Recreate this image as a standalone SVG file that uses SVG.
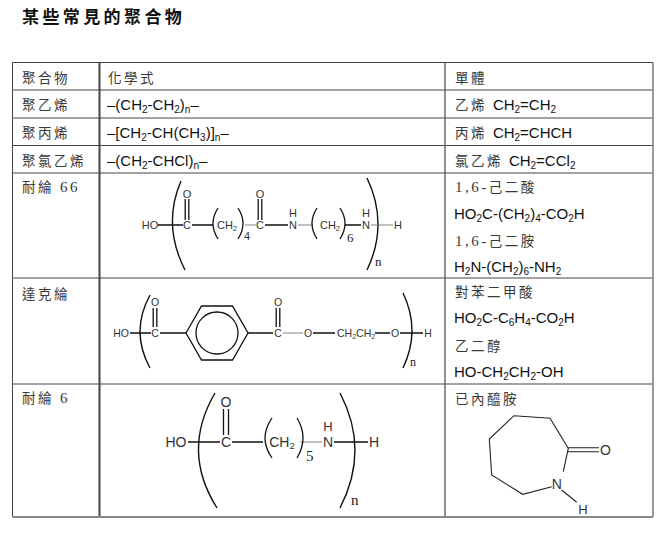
<svg xmlns="http://www.w3.org/2000/svg" width="668" height="534" viewBox="0 0 668 534">
<style>
.cj{font-family:"Liberation Serif","Noto Sans CJK TC",serif;font-size:13.5px;fill:#3a3a3a;letter-spacing:2.5px}
.f{font-family:"Liberation Sans",Arial,sans-serif;font-size:15px;fill:#111}
.s{font-size:10px}
.grid{stroke:#444;stroke-width:1;fill:none}
.st{font-family:"Liberation Sans",Arial,sans-serif;fill:#333;text-anchor:middle}
.b{stroke:#111;stroke-width:1.3;fill:none}
.g{stroke:#777;stroke-width:0.9;fill:none}
.p{stroke:#111;stroke-width:1.4;fill:none}
.num{font-family:"Liberation Serif",serif;fill:#222}
</style>
<rect width="668" height="534" fill="#fff"/>
<text x="22" y="22.5" font-family="'Noto Sans CJK TC',sans-serif" font-weight="bold" font-size="17" letter-spacing="3.4" fill="#111">某些常見的聚合物</text>

<g id="grid">
<path class="grid" d="M12.5,62.5H653M12.5,90H653M12.5,118H653M12.5,145.5H653M12.5,173H653M12.5,278H653M12.5,384H653"/>
<path class="grid" d="M12.5,62.5V517"/>
<path d="M99.5,62.5V517" stroke="#444" stroke-width="2" fill="none"/>
<path d="M445,62.5V517" stroke="#555" stroke-width="1.3" fill="none"/>
<path d="M653,62.5V517" stroke="#777" stroke-width="1.5" fill="none"/>
<path d="M12.5,517H653" stroke="#888" stroke-width="2" fill="none"/>
</g>

<g id="header">
<text class="cj" x="22" y="83">聚合物</text>
<text class="cj" x="108" y="83">化學式</text>
<text class="cj" x="455" y="83">單體</text>
</g>

<g id="row-pe">
<text class="cj" x="22" y="110">聚乙烯</text>
<text class="f" x="107" y="110">–(CH<tspan class="s" dy="3">2</tspan><tspan dy="-3">-CH</tspan><tspan class="s" dy="3">2</tspan><tspan dy="-3">)</tspan><tspan class="s" dy="3">n</tspan><tspan dy="-3">–</tspan></text>
<text x="455" y="110"><tspan class="cj">乙烯 </tspan><tspan class="f">CH</tspan><tspan class="f s" dy="3">2</tspan><tspan class="f" dy="-3">=CH</tspan><tspan class="f s" dy="3">2</tspan></text>
</g>

<g id="row-pp">
<text class="cj" x="22" y="138">聚丙烯</text>
<text class="f" x="107" y="138">–[CH<tspan class="s" dy="3">2</tspan><tspan dy="-3">-CH(CH</tspan><tspan class="s" dy="3">3</tspan><tspan dy="-3">)]</tspan><tspan class="s" dy="3">n</tspan><tspan dy="-3">–</tspan></text>
<text x="455" y="138"><tspan class="cj">丙烯 </tspan><tspan class="f">CH</tspan><tspan class="f s" dy="3">2</tspan><tspan class="f" dy="-3">=CHCH</tspan></text>
</g>

<g id="row-pvc">
<text class="cj" x="22" y="165.5">聚氯乙烯</text>
<text class="f" x="107" y="165.5">–(CH<tspan class="s" dy="3">2</tspan><tspan dy="-3">-CHCl)</tspan><tspan class="s" dy="3">n</tspan><tspan dy="-3">–</tspan></text>
<text x="455" y="165.5"><tspan class="cj">氯乙烯 </tspan><tspan class="f">CH</tspan><tspan class="f s" dy="3">2</tspan><tspan class="f" dy="-3">=CCl</tspan><tspan class="f s" dy="3">2</tspan></text>
</g>

<g id="row-nylon66">
<text class="cj" x="22" y="192">耐綸 <tspan font-size="15">66</tspan></text>
<text class="cj" x="455" y="191.5"><tspan font-size="15">1,6-</tspan>己二酸</text>
<text class="f" x="454" y="219">HO<tspan class="s" dy="3">2</tspan><tspan dy="-3">C-(CH</tspan><tspan class="s" dy="3">2</tspan><tspan dy="-3">)</tspan><tspan class="s" dy="3">4</tspan><tspan dy="-3">-CO</tspan><tspan class="s" dy="3">2</tspan><tspan dy="-3">H</tspan></text>
<text class="cj" x="455" y="245.5"><tspan font-size="15">1,6-</tspan>己二胺</text>
<text class="f" x="454" y="272">H<tspan class="s" dy="3">2</tspan><tspan dy="-3">N-(CH</tspan><tspan class="s" dy="3">2</tspan><tspan dy="-3">)</tspan><tspan class="s" dy="3">6</tspan><tspan dy="-3">-NH</tspan><tspan class="s" dy="3">2</tspan></text>
<g id="struct-nylon66" font-size="11">
<path class="p" d="M181,181 Q162,225 185,270"/>
<path class="p" d="M367,178 Q389,224 367,270"/>
<path class="b" d="M158,225H183M192,225H213M265,225H288M345,225H361"/>
<path class="g" d="M245,225H256M298,225H313M371,225H393"/>
<path class="b" d="M185.2,199V220M188.8,199V220M258.2,199V220M261.8,199V220"/>
<path class="b" stroke-width="1" d="M218,208 Q208,223.5 218,239M238,208 Q248,223.5 238,239M317,208 Q307,223.5 317,239M340,208 Q350,223.5 340,239"/>
<text class="st" x="150" y="229">HO</text>
<text class="st" x="187" y="229">C</text>
<text class="st" x="187" y="198">O</text>
<text class="st" x="227" y="229">CH<tspan font-size="7.5" dy="2">2</tspan></text>
<text class="st" x="247" y="240" font-size="11">4</text>
<text class="st" x="260" y="229">C</text>
<text class="st" x="260" y="198">O</text>
<text class="st" x="293" y="229">N</text>
<text class="st" x="293" y="216.5">H</text>
<text class="st" x="330" y="229">CH<tspan font-size="7.5" dy="2">2</tspan></text>
<text class="num" x="347" y="241.5" font-size="13">6</text>
<text class="st" x="366" y="229">N</text>
<text class="st" x="366" y="216.5">H</text>
<text class="st" x="398" y="229">H</text>
<text class="num" x="375" y="266" font-size="13">n</text>
</g>
</g>

<g id="row-dacron">
<text class="cj" x="22" y="299">達克綸</text>
<text class="cj" x="455" y="297">對苯二甲酸</text>
<text class="f" x="454" y="323">HO<tspan class="s" dy="3">2</tspan><tspan dy="-3">C-C</tspan><tspan class="s" dy="3">6</tspan><tspan dy="-3">H</tspan><tspan class="s" dy="3">4</tspan><tspan dy="-3">-CO</tspan><tspan class="s" dy="3">2</tspan><tspan dy="-3">H</tspan></text>
<text class="cj" x="455" y="351">乙二醇</text>
<text class="f" x="454" y="377">HO-CH<tspan class="s" dy="3">2</tspan><tspan dy="-3">CH</tspan><tspan class="s" dy="3">2</tspan><tspan dy="-3">-OH</tspan></text>
<g id="struct-dacron" font-size="10.5">
<path class="p" d="M150,295 Q130,331.5 150,368"/>
<path class="p" d="M403,293 Q421,330.5 403,368"/>
<path class="b" d="M130,333H151M160,333H186M248,333H273M313,333H335M375,333H390M400,333H423"/>
<path class="g" d="M283,333H303"/>
<path class="b" d="M153.2,308V327M156.8,308V327M276.2,308V327M279.8,308V327"/>
<polygon class="b" points="186,333 201.5,306 232.5,306 248,333 232.5,360 201.5,360"/>
<circle class="b" cx="217" cy="333" r="21"/>
<text class="st" x="121" y="337">HO</text>
<text class="st" x="155" y="337">C</text>
<text class="st" x="155" y="306">O</text>
<text class="st" x="278" y="337">C</text>
<text class="st" x="278" y="306">O</text>
<text class="st" x="308" y="337">O</text>
<text x="337" y="337" font-family="'Liberation Sans',Arial,sans-serif" fill="#333">CH<tspan font-size="7" dy="2">2</tspan><tspan dy="-2">CH</tspan><tspan font-size="7" dy="2">2</tspan></text>
<text class="st" x="395" y="337">O</text>
<text class="st" x="428" y="337">H</text>
<text class="num" x="410" y="366" font-size="12">n</text>
</g>
</g>

<g id="row-nylon6">
<text class="cj" x="22" y="403">耐綸 <tspan font-size="15">6</tspan></text>
<text class="cj" x="455" y="404">已內醯胺</text>
<g id="struct-nylon6" font-size="14">
<path class="p" d="M215,393 Q181,451 217,508"/>
<path class="p" d="M340,393 Q370,450 340,508"/>
<path class="b" stroke-width="1.8" d="M188,442H220M232,442H263M334,442H368"/>
<path class="g" stroke-width="1" d="M300,442H322"/>
<path class="b" stroke-width="1.6" d="M223.5,409V435M228.5,409V435"/>
<path class="b" stroke-width="1.2" d="M272,418 Q258,438 272,458M297,418 Q309,438 297,458"/>
<text class="st" x="176" y="447">HO</text>
<text class="st" x="226" y="447">C</text>
<text class="st" x="226" y="407">O</text>
<text class="st" x="282" y="447">CH<tspan font-size="9.5" dy="2">2</tspan></text>
<text class="num" x="306" y="461" font-size="15">5</text>
<text class="st" x="328" y="447">N</text>
<text class="st" x="328" y="430.5" font-size="13">H</text>
<text class="st" x="374" y="447">H</text>
<text class="num" x="351" y="505" font-size="15">n</text>
</g>
<g id="struct-caprolactam">
<path stroke="#222" stroke-width="1.1" fill="none" d="M563.3,471.7 L568.3,448.3 L550,418.3 L514,415.7 L489.3,439 L491.7,475 L522.7,494.3 L551.7,486.7"/>
<path stroke="#222" stroke-width="1.1" fill="none" d="M568,447.7H599M568,451.7H599M561.7,490L576.7,502.3"/>
<text class="st" x="556.7" y="488.5" font-size="14">N</text>
<text class="st" x="605.5" y="455" font-size="14">O</text>
<text class="st" x="583" y="514" font-size="13">H</text>
</g>
</g>
</svg>
